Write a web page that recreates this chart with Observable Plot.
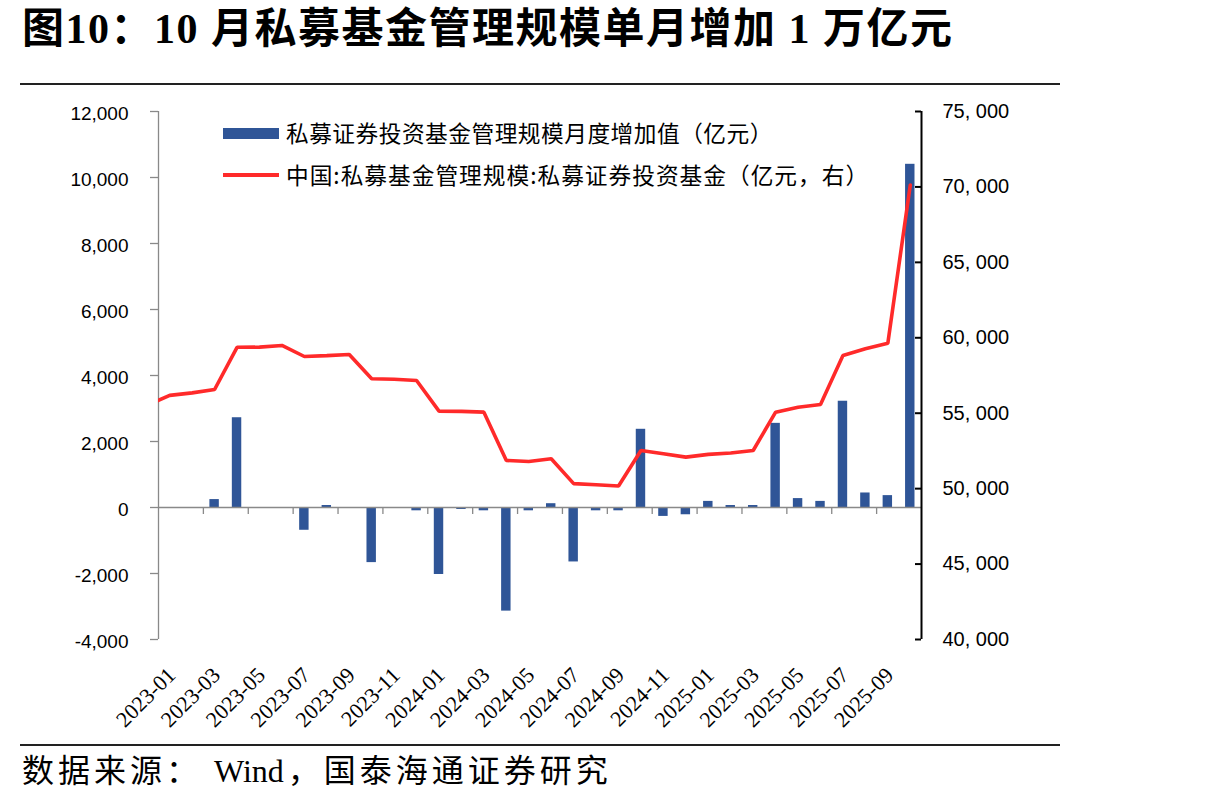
<!DOCTYPE html>
<html>
<head>
<meta charset="utf-8">
<script src="https://cdn.jsdelivr.net/npm/d3@7"></script>
<script src="https://cdn.jsdelivr.net/npm/@observablehq/plot@0.6"></script>
<style>
  html, body { margin: 0; padding: 0; background: #fff; }
  #page { position: relative; width: 1215px; height: 804px; overflow: hidden; font-family: "Noto Sans CJK SC", sans-serif; color: #000; }
  #title { position: absolute; left: 22px; top: 8px; font-size: 42px; line-height: 42px; font-weight: 700; white-space: nowrap; letter-spacing: 1.5px;
           font-family: "Liberation Serif", "Noto Sans CJK SC", serif; }
  .rule { position: absolute; left: 20px; width: 1040px; height: 2px; background: #222; }
  #chart { position: absolute; left: 0; top: 90px; }
  .legend-item { position: absolute; left: 223px; display: flex; align-items: center; white-space: nowrap; font-size: 22.7px; line-height: 1; }
  .swatch { width: 56px; margin-right: 7px; }
  #source { position: absolute; left: 22px; top: 755px; font-size: 32px; line-height: 32px; white-space: nowrap; letter-spacing: 4px;
            font-family: "Liberation Serif", "Noto Sans CJK SC", serif; }
  #source .latin { letter-spacing: 0; margin-right: 4px; }
</style>
</head>
<body>
<div id="page">
  <div id="title">图10：10 月私募基金管理规模单月增加 1 万亿元</div>
  <div class="rule" style="top:83px"></div>
  <div id="chart"></div>
  <div class="legend-item" style="top:122px;letter-spacing:0.5px"><span class="swatch" style="height:11px;background:#2F5597"></span><span>私募证券投资基金管理规模月度增加值（亿元）</span></div>
  <div class="legend-item" style="top:164px;letter-spacing:1px"><span class="swatch" style="height:4px;background:#FF2A2A"></span><span>中国:私募基金管理规模:私募证券投资基金（亿元，右）</span></div>
  <div class="rule" style="top:744px"></div>
  <div id="source">数据来源： <span class="latin">Wind</span>，国泰海通证券研究</div>
</div>
<script>
// Monthly categories on the x axis
const months = [
  "2023-01","2023-02","2023-03","2023-04","2023-05","2023-06","2023-07","2023-08","2023-09","2023-10","2023-11","2023-12",
  "2024-01","2024-02","2024-03","2024-04","2024-05","2024-06","2024-07","2024-08","2024-09","2024-10","2024-11","2024-12",
  "2025-01","2025-02","2025-03","2025-04","2025-05","2025-06","2025-07","2025-08","2025-09","2025-10"
];

// Monthly change of private securities fund AUM (亿元); null = no value reported
const monthlyChange = [
  null, null, 240, 2720, null, null, -690, 60, null, -1670, null, -100,
  -2030, -60, -100, -3140, -100, 115, -1650, -100, -100, 2370, -270, -220,
  185, 60, 60, 2550, 270, 185, 3220, 440, 360, 10400
];

// Private securities fund AUM (亿元, right axis)
const aumDec2022 = 55540;
const aum = [
  56180, 56350, 56570, 59370, 59380, 59490, 58760, 58820, 58890, 57280, 57250, 57170,
  55140, 55120, 55070, 51870, 51800, 51980, 50330, 50260, 50170, 52530, 52310, 52090,
  52270, 52360, 52530, 55070, 55400, 55580, 58820, 59270, 59640, 70130
];

// Axis ticks
const leftTicks = [-4000, -2000, 0, 2000, 4000, 6000, 8000, 10000, 12000];
const rightTicks = [40000, 45000, 50000, 55000, 60000, 65000, 70000, 75000];
const labelEvery = 2;

// Left axis spans [-4000, 12000]; right axis spans [40000, 75000] over the same height
const leftDomain = [-4000, 12000];
const rightDomain = [40000, 75000];
const toLeft = v => leftDomain[0] + (v - rightDomain[0]) / (rightDomain[1] - rightDomain[0]) * (leftDomain[1] - leftDomain[0]);

const bars = months.map((m, i) => ({i, month: m, v: monthlyChange[i]})).filter(d => d.v != null);
const line = [{i: -1, v: aumDec2022}, ...months.map((m, i) => ({i, month: m, v: aum[i]}))];
const xLabels = months.map((m, i) => ({i, label: m})).filter(d => d.i % labelEvery === 0);
const xBounds = d3.range(labelEvery, months.length, labelEvery).map(k => ({b: k - 0.5}));

const lo = -0.5, hi = months.length - 0.5;
const gray = "#898989";
const fmtLeft = v => d3.format(",")(v).replace("−", "-");
const fmtRight = v => d3.format(",")(v).replace(",", ", ");
const tickFont = "Liberation Sans, sans-serif";

const chart = Plot.plot({
  width: 1215,
  height: 650,
  marginTop: 21,
  marginBottom: 101,
  marginLeft: 158,
  marginRight: 294,
  x: {domain: [lo, hi], axis: null},
  y: {domain: leftDomain, axis: null},
  style: {background: "transparent", overflow: "visible", color: "#000"},
  marks: [
    // bars: monthly change
    Plot.rect(bars, {x1: d => d.i - 0.21, x2: d => d.i + 0.21, y1: () => 0, y2: "v", fill: "#2F5597"}),
    // zero line and category ticks hanging from it
    Plot.ruleY([0], {stroke: gray, strokeWidth: 1.3}),
    Plot.ruleX(xBounds, {x: "b", y1: () => 0, y2: () => 0, insetBottom: -7, stroke: gray, strokeWidth: 1.3}),
    // left axis
    Plot.ruleX([lo], {stroke: gray, strokeWidth: 1.3}),
    Plot.ruleY(leftTicks, {y: d => d, x1: () => lo, x2: () => lo, insetLeft: -8, stroke: gray, strokeWidth: 1.3}),
    Plot.text(leftTicks, {y: d => d, text: fmtLeft, frameAnchor: "left", textAnchor: "end", dx: -30, dy: 2,
      fontSize: 19, fontFamily: tickFont, fill: "#000"}),
    // right axis
    Plot.ruleX([hi], {stroke: "#000", strokeWidth: 2}),
    Plot.ruleY(rightTicks, {y: toLeft, x1: () => hi, x2: () => hi, insetLeft: -6, stroke: "#000", strokeWidth: 2}),
    Plot.text(rightTicks, {y: toLeft, text: fmtRight, frameAnchor: "right", textAnchor: "start", dx: 21,
      fontSize: 20, fontFamily: tickFont, fill: "#000"}),
    // AUM line (right axis)
    Plot.line(line, {x: "i", y: d => toLeft(d.v), stroke: "#FF2A2A", strokeWidth: 3.6, clip: true, strokeLinejoin: "miter"}),
    // rotated month labels
    Plot.text(xLabels, {x: "i", text: "label", frameAnchor: "bottom", rotate: -45, textAnchor: "end", lineAnchor: "top",
      dx: -4, dy: 26, fontSize: 22, fontFamily: "Liberation Serif, serif", fill: "#000"})
  ]
});
document.getElementById("chart").append(chart);
</script>
</body>
</html>
